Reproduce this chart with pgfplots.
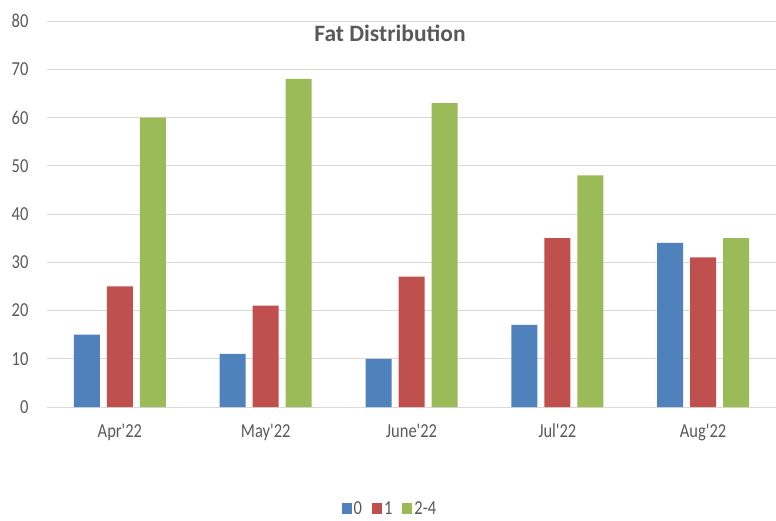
\documentclass[border=0pt]{standalone}
\usepackage{graphicx}
\usepackage{pgfplots}
\pgfplotsset{compat=1.18}
\usepackage{fontspec}
\setmainfont{Carlito}
\definecolor{cblue}{HTML}{4F81BD}
\definecolor{cred}{HTML}{C0504D}
\definecolor{cgreen}{HTML}{9BBB59}
\definecolor{gridgray}{HTML}{D9D9D9}
\definecolor{textgray}{HTML}{595959}
\newcommand{\st}[1]{\scalebox{1}[1.2]{#1}}
\begin{document}
\begin{tikzpicture}[x=1pt,y=1pt]
\useasboundingbox (0,0) rectangle (776,520);
\begin{axis}[
  at={(47pt,113pt)}, anchor=south west,
  scale only axis, width=729pt, height=386pt,
  xmin=-0.5, xmax=4.5, ymin=0, ymax=80,
  xtick={0,1,2,3,4},
  xticklabels={\st{Apr\textquotesingle 22},\st{May\textquotesingle 22},\st{June\textquotesingle 22},\st{Jul\textquotesingle 22},\st{Aug\textquotesingle 22}},
  ytick={0,10,...,80},
  yticklabel={\st{\pgfmathprintnumber{\tick}}},
  ymajorgrids, grid style={draw=gridgray, line width=0.8pt},
  axis line style={draw=none}, tick style={draw=none},
  ybar=7pt, bar width=26pt,
  /pgf/number format/assume math mode=true,
  ticklabel style={font=\fontsize{16.5}{19}\selectfont, text=textgray},
  yticklabel style={xshift=-15pt},
  xticklabel style={yshift=-9pt},
  legend style={at={(axis description cs:0.4705,-0.264)}, anchor=center, draw=none, fill=none,
    font=\fontsize{16.5}{19}\selectfont, text=textgray, legend columns=-1,
    /tikz/every even column/.append style={column sep=8pt}},
  legend image code/.code={\fill[#1] (0pt,-5.5pt) rectangle (10pt,5.5pt);},
]
\addplot[fill=cblue, draw=none] coordinates {(0,15) (1,11) (2,10) (3,17) (4,34)};
\addplot[fill=cred, draw=none] coordinates {(0,25) (1,21) (2,27) (3,35) (4,31)};
\addplot[fill=cgreen, draw=none] coordinates {(0,60) (1,68) (2,63) (3,48) (4,35)};
\legend{\st{0},\st{1},\st{2-4}}
\node[font=\bfseries\fontsize{23.5}{27}\selectfont, text=textgray] at (axis description cs:0.4705,0.9676) {Fat Distribution};
\end{axis}
\end{tikzpicture}
\end{document}
